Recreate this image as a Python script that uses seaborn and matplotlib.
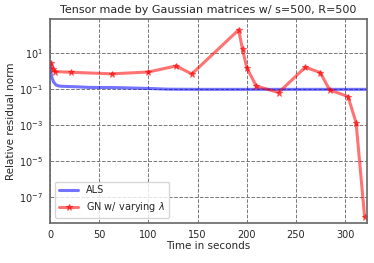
import matplotlib
matplotlib.use("Agg")
import matplotlib.pyplot as plt
import seaborn as sns
import pandas as pd

als_t = [0, 0.5, 1.5, 3.5, 6, 9, 12, 20, 28, 40, 66, 80, 100, 120, 150, 200, 250, 300, 322]
als_r = [2.8, 1.2, 0.5, 0.25, 0.17, 0.15, 0.145, 0.14, 0.135, 0.125, 0.123, 0.117, 0.11, 0.1, 0.098, 0.098, 0.098, 0.098, 0.098]

gn_t = [0.7, 3.4, 5, 21.5, 62.7, 100, 128, 144, 191.6, 195.6, 200, 209.6, 232.3, 259.4, 274.7, 284, 302.8, 311, 319.7]
gn_r = [2.8, 1.3, 0.95, 0.87, 0.71, 0.9, 1.95, 0.7, 195, 16.6, 1.47, 0.15, 0.065, 1.66, 0.83, 0.092, 0.039, 0.0014, 7.8e-9]

sns.set_style("white")
plt.rcParams['font.family'] = ['DejaVu Sans']

fig, ax = plt.subplots(figsize=(3.74, 2.63), dpi=100)
df_als = pd.DataFrame({"t": als_t, "r": als_r})
df_gn = pd.DataFrame({"t": gn_t, "r": gn_r})
sns.lineplot(data=df_als, x="t", y="r", ax=ax, color="blue", alpha=0.55, lw=2.2, label="ALS")
sns.lineplot(data=df_gn, x="t", y="r", ax=ax, color="red", alpha=0.55, lw=2.2,
             marker="*", markersize=4.5, markeredgecolor="red", label=r"GN w/ varying $\lambda$")
ax.set_yscale("log")
ax.set_xlim(0, 322)
ax.set_ylim(10**-8.43, 10**2.9)
ax.set_yticks([1e1, 1e-1, 1e-3, 1e-5, 1e-7])
ax.minorticks_off()
ax.set_xticks([0, 50, 100, 150, 200, 250, 300])
ax.grid(True, color="#777777", linestyle="--", linewidth=0.7)
for s in ax.spines.values():
    s.set_color("#666666")
    s.set_linewidth(1.2)
ax.tick_params(axis="both", labelsize=7, direction="out", length=3, color="#333333", pad=2)
ax.set_xlabel("Time in seconds", fontsize=7.5, labelpad=1)
ax.set_ylabel("Relative residual norm", fontsize=7.5, labelpad=2)
ax.set_title("Tensor made by Gaussian matrices w/ s=500, R=500", fontsize=8, pad=4)
ax.legend(loc="lower left", fontsize=7, frameon=True)
fig.subplots_adjust(left=0.134, right=0.981, top=0.928, bottom=0.152)
fig.savefig("out.png", dpi=100)
